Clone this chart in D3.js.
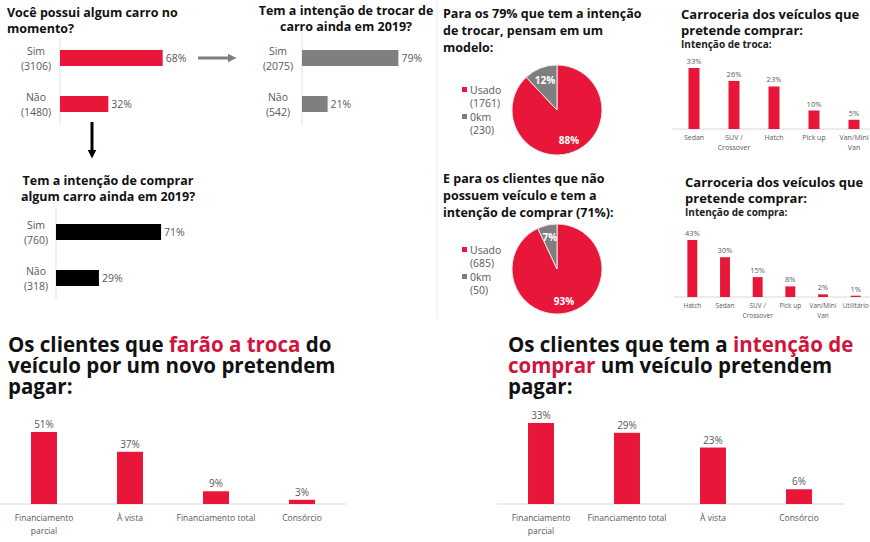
<!DOCTYPE html>
<html>
<head>
<meta charset="utf-8">
<script src="https://cdn.jsdelivr.net/npm/d3@7"></script>
<style>
  body { margin: 0; background: #fff; }
  svg { display: block; font-family: "Open Sans", sans-serif; }
</style>
</head>
<body>
<svg id="chart" width="870" height="542"></svg>
<script>
// --- data ---
var yesNo = ["Sim", "Não"]
var ownCounts = [3106, 1480]
var ownPct = [68, 32]
var swapCounts = [2075, 542]
var swapPct = [79, 21]
var buyCounts = [760, 318]
var buyPct = [71, 29]

var pieCats = ["Usado", "0km"]
var swapPieCounts = [1761, 230]
var swapPiePct = [88, 12]
var buyPieCounts = [685, 50]
var buyPiePct = [93, 7]

var bodySwapCats = ["Sedan", "SUV / Crossover", "Hatch", "Pick up", "Van/Mini Van"]
var bodySwapPct = [33, 26, 23, 10, 5]
var bodyBuyCats = ["Hatch", "Sedan", "SUV / Crossover", "Pick up", "Van/Mini Van", "Utilitário"]
var bodyBuyPct = [43, 30, 15, 8, 2, 1]

var paySwapCats = ["Financiamento parcial", "À vista", "Financiamento total", "Consórcio"]
var paySwapPct = [51, 37, 9, 3]
var payBuyCats = ["Financiamento parcial", "Financiamento total", "À vista", "Consórcio"]
var payBuyPct = [33, 29, 23, 6]

var RED = "#e8173a", TITLE_RED = "#d0143c", GRAY = "#7f7f7f", LABEL = "#595959"
var svg = d3.select("#chart")

// faint panel separator
svg.append("line").attr("x1", 437).attr("x2", 437).attr("y1", 0).attr("y2", 318)
  .attr("stroke", "#ececec")

function title(lines, x, y, size, anchor, lh) {
  var t = svg.append("text").attr("x", x).attr("y", y).attr("font-size", size)
    .attr("font-weight", 700).attr("fill", "#111").attr("text-anchor", anchor || "start")
  lines.forEach(function(l, i) {
    t.append("tspan").attr("x", x).attr("dy", i ? (lh || size * 1.3) : 0).text(l)
  })
}

// horizontal yes/no bars
function hbars(pct, counts, axisX, c0, c1, max, width, color, labelX, axisTop, axisBot) {
  var x = d3.scaleLinear().domain([0, max]).range([axisX, axisX + width])
  var y = d3.scalePoint().domain(yesNo).range([c0, c1])
  var g = svg.append("g")
  g.append("line").attr("x1", axisX).attr("x2", axisX).attr("y1", axisTop).attr("y2", axisBot)
    .attr("stroke", "#e3e3e3")
  g.selectAll("rect").data(pct).enter().append("rect")
    .attr("x", axisX).attr("y", function(d, i) { return y(yesNo[i]) - 8 })
    .attr("width", function(d) { return x(d) - axisX }).attr("height", 16)
    .attr("fill", color)
  g.selectAll(".val").data(pct).enter().append("text").attr("class", "val")
    .attr("x", function(d) { return x(d) + 3 }).attr("y", function(d, i) { return y(yesNo[i]) + 4 })
    .attr("font-size", 10.5).attr("fill", LABEL).text(function(d) { return d + "%" })
  g.selectAll(".cat").data(yesNo).enter().append("text").attr("class", "cat")
    .attr("x", labelX).attr("y", function(d) { return y(d) - 3 }).attr("text-anchor", "middle")
    .attr("font-size", 10.5).attr("fill", LABEL).text(function(d) { return d })
  g.selectAll(".cnt").data(counts).enter().append("text").attr("class", "cnt")
    .attr("x", labelX).attr("y", function(d, i) { return y(yesNo[i]) + 12 }).attr("text-anchor", "middle")
    .attr("font-size", 10.5).attr("fill", LABEL).text(function(d) { return "(" + d + ")" })
}

title(["Você possui algum carro no", "momento?"], 7, 17, 12.5, "start", 16)
hbars(ownPct, ownCounts, 60, 58, 104, 100, 151, RED, 36, 37, 125)

title(["Tem a intenção de trocar de", "carro ainda em 2019?"], 346, 15, 12.5, "middle", 16)
hbars(swapPct, swapCounts, 302, 58, 104, 100, 122, GRAY, 278, 33, 125)

title(["Tem a intenção de comprar", "algum carro ainda em 2019?"], 108, 185, 12.5, "middle", 16)
hbars(buyPct, buyCounts, 56, 232, 278, 100, 148, "#000", 36, 208, 300)

// arrows
var defs = svg.append("defs")
function marker(id, color) {
  defs.append("marker").attr("id", id).attr("viewBox", "0 0 10 10").attr("refX", 5).attr("refY", 5)
    .attr("markerWidth", 3).attr("markerHeight", 3).attr("orient", "auto")
    .append("path").attr("d", "M0,0L10,5L0,10z").attr("fill", color)
}
marker("ag", GRAY); marker("ab", "#000")
svg.append("line").attr("x1", 198).attr("x2", 232).attr("y1", 58).attr("y2", 58)
  .attr("stroke", GRAY).attr("stroke-width", 3).attr("marker-end", "url(#ag)")
svg.append("line").attr("x1", 92).attr("x2", 92).attr("y1", 122).attr("y2", 154)
  .attr("stroke", "#000").attr("stroke-width", 3).attr("marker-end", "url(#ab)")

// pies
function pie(counts, pct, cx, cy, r, legY) {
  var colors = [RED, GRAY]
  var arcs = d3.pie().sort(null).value(function(d) { return d })(pct)
  var arc = d3.arc().innerRadius(0).outerRadius(r)
  var lab = d3.arc().innerRadius(r * 0.72).outerRadius(r * 0.72)
  var g = svg.append("g").attr("transform", "translate(" + cx + "," + cy + ")")
  g.selectAll("path").data(arcs).enter().append("path").attr("d", arc)
    .attr("fill", function(d, i) { return colors[i] }).attr("stroke", "#e8e8e8").attr("stroke-width", 1)
  g.selectAll("text").data(arcs).enter().append("text")
    .attr("transform", function(d) { return "translate(" + lab.centroid(d) + ")" })
    .attr("dy", 4).attr("text-anchor", "middle").attr("font-size", 10).attr("font-weight", 700)
    .attr("fill", "#fff").text(function(d) { return d.data + "%" })
  var lg = svg.append("g")
  pieCats.forEach(function(c, i) {
    var y0 = legY + i * 27
    lg.append("rect").attr("x", 462).attr("y", y0 - 7).attr("width", 5).attr("height", 5).attr("fill", colors[i])
    lg.append("text").attr("x", 470).attr("y", y0).attr("font-size", 10.5).attr("fill", LABEL).text(c)
    lg.append("text").attr("x", 470).attr("y", y0 + 13).attr("font-size", 10.5).attr("fill", LABEL)
      .text("(" + counts[i] + ")")
  })
}
title(["Para os 79% que tem a intenção", "de trocar, pensam em um", "modelo:"], 443, 18, 12.5, "start", 17)
pie(swapPieCounts, swapPiePct, 557, 110, 45, 94)
title(["E para os clientes que não", "possuem veículo e tem a", "intenção de comprar (71%):"], 443, 183, 12.5, "start", 17)
pie(buyPieCounts, buyPiePct, 557, 269, 45, 254)

// vertical bar charts
function vbars(cats, pct, r0, r1, pIn, bw, base, top, maxV, lineX0, lineX1, vSize, cSize, cLine, cGap) {
  var x = d3.scaleBand().domain(cats).range([r0, r1]).paddingInner(pIn).paddingOuter(pIn / 2)
  var y = d3.scaleLinear().domain([0, maxV]).range([base, top])
  var g = svg.append("g")
  g.append("line").attr("x1", lineX0).attr("x2", lineX1).attr("y1", base).attr("y2", base)
    .attr("stroke", "#d9d9d9")
  g.selectAll("rect").data(pct).enter().append("rect")
    .attr("x", function(d, i) { return x(cats[i]) }).attr("y", function(d) { return y(d) })
    .attr("width", x.bandwidth()).attr("height", function(d) { return base - y(d) })
    .attr("fill", RED)
  g.selectAll(".val").data(pct).enter().append("text").attr("class", "val")
    .attr("x", function(d, i) { return x(cats[i]) + x.bandwidth() / 2 })
    .attr("y", function(d) { return y(d) - 4 }).attr("text-anchor", "middle")
    .attr("font-size", vSize).attr("fill", LABEL).text(function(d) { return d + "%" })
  cats.forEach(function(c, i) {
    var words = c.indexOf(" / ") >= 0 ? c.split(" / ").map(function(w, k) { return k ? w : w + " /" })
      : (c === "Van/Mini Van" ? ["Van/Mini", "Van"] : (c === "Financiamento parcial" ? ["Financiamento", "parcial"] : [c]))
    var t = g.append("text").attr("x", x(c) + x.bandwidth() / 2).attr("y", base + cGap)
      .attr("text-anchor", "middle").attr("font-size", cSize).attr("fill", LABEL)
    words.forEach(function(w, k) {
      t.append("tspan").attr("x", x(c) + x.bandwidth() / 2).attr("dy", k ? cLine : 0).text(w)
    })
  })
}

title(["Carroceria dos veículos que", "pretende comprar:"], 681, 19, 13, "start", 16)
svg.append("text").attr("x", 681).attr("y", 48).attr("font-size", 10).attr("font-weight", 700)
  .attr("fill", "#222").text("Intenção de troca:")
vbars(bodySwapCats, bodySwapPct, 674, 874, 0.725, 11, 129, 68, 33, 672, 870, 7.5, 7, 10, 11)

title(["Carroceria dos veículos que", "pretende comprar:"], 685, 187, 13, "start", 16)
svg.append("text").attr("x", 685).attr("y", 216).attr("font-size", 10).attr("font-weight", 700)
  .attr("fill", "#222").text("Intenção de compra:")
vbars(bodyBuyCats, bodyBuyPct, 676, 872, 0.697, 10, 297, 240, 43, 674, 870, 7.5, 6.5, 10, 11)

// bottom titles
var big = svg.append("text").attr("x", 8).attr("y", 352).attr("font-size", 20.5).attr("font-weight", 700).attr("fill", "#111")
big.append("tspan").text("Os clientes que ")
big.append("tspan").attr("fill", TITLE_RED).text("farão a troca")
big.append("tspan").text(" do")
big.append("tspan").attr("x", 8).attr("dy", 21).text("veículo por um novo pretendem")
big.append("tspan").attr("x", 8).attr("dy", 21).text("pagar:")

var big2 = svg.append("text").attr("x", 508).attr("y", 352).attr("font-size", 20.5).attr("font-weight", 700).attr("fill", "#111")
big2.append("tspan").text("Os clientes que tem a ")
big2.append("tspan").attr("fill", TITLE_RED).text("intenção de")
big2.append("tspan").attr("x", 508).attr("dy", 21).attr("fill", TITLE_RED).text("comprar")
big2.append("tspan").text(" um veículo pretendem")
big2.append("tspan").attr("x", 508).attr("dy", 21).text("pagar:")

vbars(paySwapCats, paySwapPct, 1, 345, 0.698, 26, 504, 432, 51, 0, 346, 10, 8.5, 13, 17)
vbars(payBuyCats, payBuyPct, 498, 842, 0.698, 26, 504, 423, 33, 497, 845, 10, 8.5, 13, 17)
</script>
</body>
</html>
